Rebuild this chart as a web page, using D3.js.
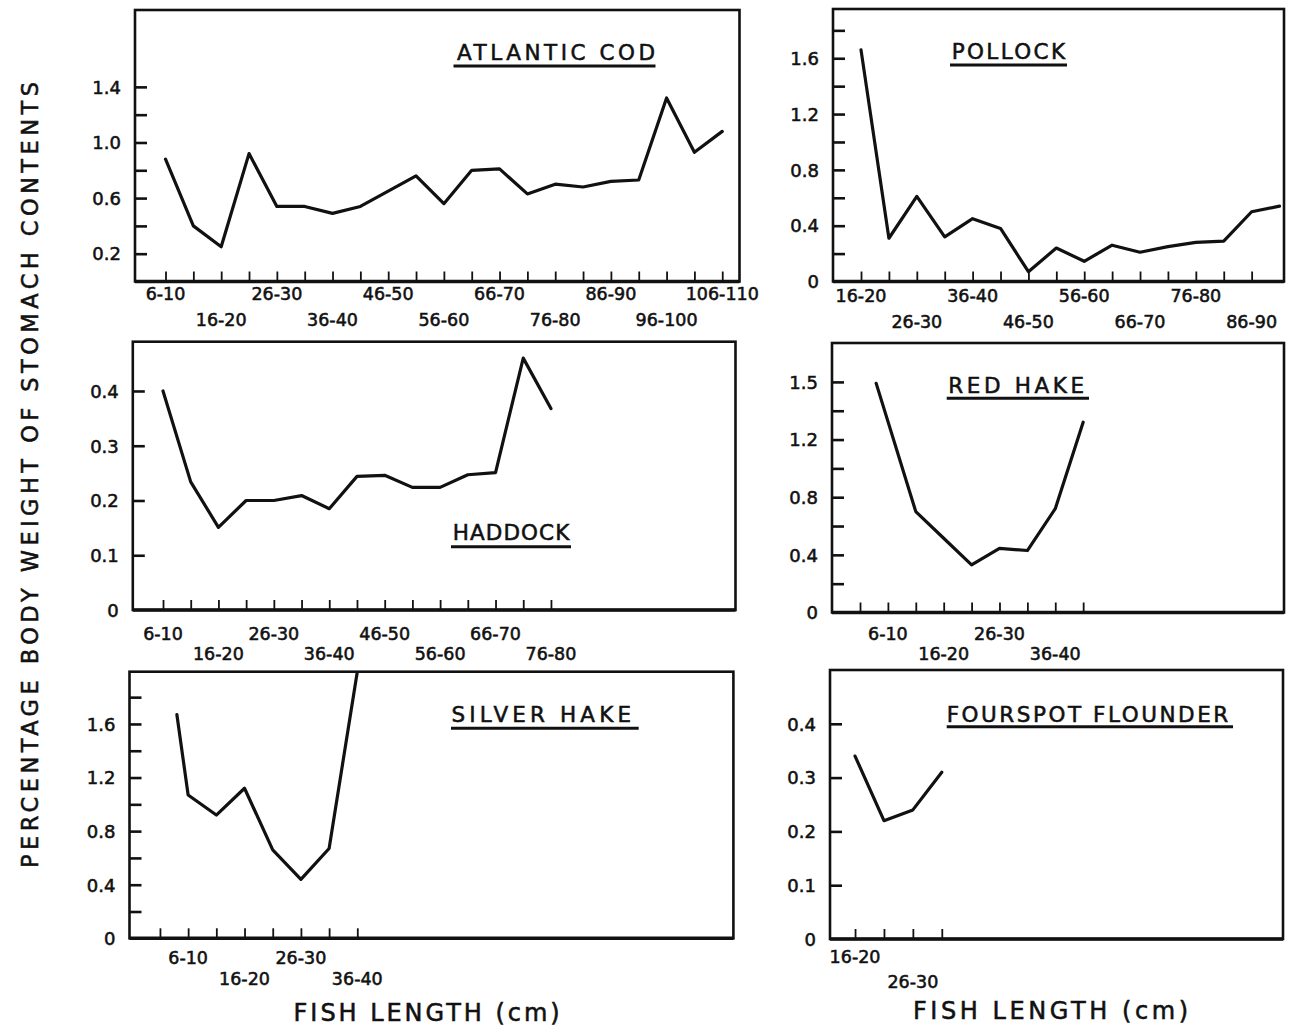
<!DOCTYPE html>
<html>
<head>
<meta charset="utf-8">
<script src="https://cdn.jsdelivr.net/npm/d3@7"></script>
<style>
  html,body{margin:0;padding:0;background:#fff;}
  svg{display:block;}
  text{font-family:"DejaVu Sans",sans-serif;fill:#111;stroke:#111;stroke-width:0.55px;}
</style>
</head>
<body>
<svg id="chart" width="1299" height="1032"></svg>
<script>
// ---------------- DATA ----------------
// Atlantic cod
const codClasses = ["6-10","11-15","16-20","21-25","26-30","31-35","36-40","41-45","46-50","51-55","56-60","61-65","66-70","71-75","76-80","81-85","86-90","91-95","96-100","101-105","106-110"];
const codTickLabels = ["6-10","16-20","26-30","36-40","46-50","56-60","66-70","76-80","86-90","96-100","106-110"];
const codLengths = [8,13,18,23,28,33,38,43,48,53,58,63,68,73,78,83,88,93,98,103,108];
const codValues = [0.88,0.40,0.25,0.92,0.54,0.54,0.49,0.54,0.65,0.76,0.56,0.80,0.81,0.63,0.70,0.68,0.72,0.73,1.32,0.93,1.08];
const codYTicks = [0.2,0.4,0.6,0.8,1.0,1.2,1.4];
const codYLabelValues = [0.2,0.6,1.0,1.4];
const codYLabelText = ["0.2","0.6","1.0","1.4"];

// Pollock
const pollockClasses = ["16-20","21-25","26-30","31-35","36-40","41-45","46-50","51-55","56-60","61-65","66-70","71-75","76-80","81-85","86-90"];
const pollockTickLabels = ["16-20","26-30","36-40","46-50","56-60","66-70","76-80","86-90"];
const pollockLengths = [18,23,28,33,38,43,48,53,58,63,68,73,78,83,88,93];
const pollockValues = [1.66,0.31,0.61,0.32,0.45,0.38,0.07,0.24,0.145,0.26,0.21,0.25,0.28,0.29,0.50,0.54];
const pollockYTicks = [0.2,0.4,0.6,0.8,1.0,1.2,1.4,1.6,1.8];
const pollockYLabelValues = [0,0.4,0.8,1.2,1.6];
const pollockYLabelText = ["0","0.4","0.8","1.2","1.6"];

// Haddock
const haddockClasses = ["6-10","11-15","16-20","21-25","26-30","31-35","36-40","41-45","46-50","51-55","56-60","61-65","66-70","71-75","76-80"];
const haddockTickLabels = ["6-10","16-20","26-30","36-40","46-50","56-60","66-70","76-80"];
const haddockLengths = [8,13,18,23,28,33,38,43,48,53,58,63,68,73,78];
const haddockValues = [0.40,0.234,0.151,0.20,0.20,0.209,0.185,0.244,0.246,0.224,0.224,0.247,0.251,0.46,0.368];
const haddockYTicks = [0.1,0.2,0.3,0.4];
const haddockYLabelValues = [0,0.1,0.2,0.3,0.4];
const haddockYLabelText = ["0","0.1","0.2","0.3","0.4"];

// Red hake
const redHakeClasses = ["1-5","6-10","11-15","16-20","21-25","26-30","31-35","36-40","41-45"];
const redHakeTickLabels = ["6-10","16-20","26-30","36-40"];
const redHakeLengths = [5.9,13,18,23,28,33,38,43];
const redHakeValues = [1.59,0.70,0.515,0.33,0.445,0.43,0.72,1.32];
const redHakeYTicks = [0.2,0.4,0.6,0.8,1.0,1.2,1.4,1.6];
const redHakeYLabelValues = [0,0.4,0.8,1.2,1.6];
const redHakeYLabelText = ["0","0.4","0.8","1.2","1.5"];

// Silver hake
const silverHakeClasses = ["1-5","6-10","11-15","16-20","21-25","26-30","31-35","36-40"];
const silverHakeTickLabels = ["6-10","16-20","26-30","36-40"];
const silverHakeLengths = [6,8,13,18,23,28,33,38];
const silverHakeValues = [1.67,1.07,0.92,1.12,0.66,0.44,0.67,1.99];
const silverHakeYTicks = [0.2,0.4,0.6,0.8,1.0,1.2,1.4,1.6,1.8];
const silverHakeYLabelValues = [0,0.4,0.8,1.2,1.6];
const silverHakeYLabelText = ["0","0.4","0.8","1.2","1.6"];

// Fourspot flounder
const flounderClasses = ["16-20","21-25","26-30","31-35"];
const flounderTickLabels = ["16-20","26-30"];
const flounderLengths = [18,23,28,33];
const flounderValues = [0.34,0.22,0.24,0.31];
const flounderYTicks = [0.1,0.2,0.3,0.4];
const flounderYLabelValues = [0,0.1,0.2,0.3,0.4];
const flounderYLabelText = ["0","0.1","0.2","0.3","0.4"];

const xAxisTitle = "FISH LENGTH (cm)";
const yAxisTitle = "PERCENTAGE BODY WEIGHT OF STOMACH CONTENTS";

// ---------------- LAYOUT ----------------
const panels = [
  {title:"ATLANTIC COD", classes:codClasses, tickLabels:codTickLabels, lengths:codLengths, values:codValues,
   yTicks:codYTicks, yLabelValues:codYLabelValues, yLabelText:codYLabelText,
   frame:{l:135,r:739.5,t:10,b:281.5}, xDomain:[2.52,111.1], yMax:1.953, rows:[300,326],
   tt:{x:457,y:60,w:198,uy:66,u0:453.5,u1:655.5}},
  {title:"POLLOCK", classes:pollockClasses, tickLabels:pollockTickLabels, lengths:pollockLengths, values:pollockValues,
   yTicks:pollockYTicks, yLabelValues:pollockYLabelValues, yLabelText:pollockYLabelText,
   frame:{l:833,r:1284,t:9,b:281.5}, xDomain:[12.98,93.8], yMax:1.953, rows:[302,328],
   tt:{x:951.7,y:59.3,w:113.3,uy:65,u0:950,u1:1067}},
  {title:"HADDOCK", classes:haddockClasses, tickLabels:haddockTickLabels, lengths:haddockLengths, values:haddockValues,
   yTicks:haddockYTicks, yLabelValues:haddockYLabelValues, yLabelText:haddockYLabelText,
   frame:{l:132.8,r:735.5,t:341.7,b:610}, xDomain:[2.55,111.3], yMax:0.49, rows:[640,660],
   tt:{x:452.7,y:540,w:116.6,uy:546.7,u0:451,u1:571}},
  {title:"RED HAKE", classes:redHakeClasses, tickLabels:redHakeTickLabels, lengths:redHakeLengths, values:redHakeValues,
   yTicks:redHakeYTicks, yLabelValues:redHakeYLabelValues, yLabelText:redHakeYLabelText,
   frame:{l:832,r:1284,t:343,b:612.5}, xDomain:[-2.02,79.0], yMax:1.87, rows:[640,660],
   tt:{x:948.3,y:393.3,w:135.7,uy:398.3,u0:946.7,u1:1089}},
  {title:"SILVER HAKE", classes:silverHakeClasses, tickLabels:silverHakeTickLabels, lengths:silverHakeLengths, values:silverHakeValues,
   yTicks:silverHakeYTicks, yLabelValues:silverHakeYLabelValues, yLabelText:silverHakeYLabelText,
   frame:{l:129.5,r:733.4,t:671.7,b:938.3}, xDomain:[-2.4,104.7], yMax:1.99, rows:[964,985],
   tt:{x:451.4,y:721.7,w:179.6,uy:728.3,u0:451,u1:638.7}},
  {title:"FOURSPOT FLOUNDER", classes:flounderClasses, tickLabels:flounderTickLabels, lengths:flounderLengths, values:flounderValues,
   yTicks:flounderYTicks, yLabelValues:flounderYLabelValues, yLabelText:flounderYLabelText,
   frame:{l:830,r:1283,t:670,b:939}, xDomain:[13.67,92.0], yMax:0.5, rows:[963,988],
   tt:{x:946.7,y:721.7,w:281.6,uy:726.7,u0:946.7,u1:1233}}
];

const classMid = s => +s.split("-")[0] + 2;
const svg = d3.select("#chart");
const ink = "#111";

panels.forEach((p, pi) => {
  const f = p.frame;
  const x = d3.scaleLinear().domain(p.xDomain).range([f.l, f.r]);
  const y = d3.scaleLinear().domain([0, p.yMax]).range([f.b, f.t]);
  const g = svg.append("g");

  const clipId = "clip" + pi;
  svg.append("clipPath").attr("id", clipId)
    .append("rect").attr("x", f.l).attr("y", f.t).attr("width", f.r - f.l).attr("height", f.b - f.t);

  // frame
  g.append("rect").attr("x", f.l).attr("y", f.t).attr("width", f.r - f.l).attr("height", f.b - f.t)
    .attr("fill", "none").attr("stroke", ink).attr("stroke-width", 2.6);
  g.append("line").attr("x1", f.l).attr("x2", f.r).attr("y1", f.b).attr("y2", f.b)
    .attr("stroke", ink).attr("stroke-width", 3.4);

  // y axis ticks (inward)
  const yAx = d3.axisRight(y).tickValues(p.yTicks).tickSize(12).tickFormat("");
  const ya = g.append("g").attr("transform", `translate(${f.l},0)`).call(yAx);
  ya.select(".domain").remove();
  ya.selectAll(".tick line").attr("stroke", ink).attr("stroke-width", 2.6);

  // y labels
  g.selectAll(".ylab").data(p.yLabelValues).enter().append("text")
    .attr("x", f.l - 14).attr("y", d => y(d) + 6.8)
    .attr("text-anchor", "end").attr("font-size", 18)
    .text((d, i) => p.yLabelText[i]);

  // x ticks (inward, upward)
  const xAx = d3.axisTop(x).tickValues(p.classes.map(classMid)).tickSize(10).tickFormat("");
  const xa = g.append("g").attr("transform", `translate(0,${f.b})`).call(xAx);
  xa.select(".domain").remove();
  xa.selectAll(".tick line").attr("stroke", ink).attr("stroke-width", 1.8);

  // x labels (two staggered rows)
  g.selectAll(".xlab").data(p.tickLabels).enter().append("text")
    .attr("x", d => x(classMid(d))).attr("y", (d, i) => p.rows[i % 2])
    .attr("text-anchor", "middle").attr("font-size", 17.5)
    .text(d => d);

  // data line
  const pts = p.lengths.map((L, i) => [L, p.values[i]]);
  const line = d3.line().x(d => x(d[0])).y(d => y(d[1]));
  g.append("path").datum(pts).attr("d", line)
    .attr("clip-path", `url(#${clipId})`)
    .attr("fill", "none").attr("stroke", ink).attr("stroke-width", 3.2)
    .attr("stroke-linejoin", "round").attr("stroke-linecap", "round");

  // title + underline
  const t = p.tt;
  g.append("text").attr("x", t.x).attr("y", t.y).attr("font-size", 21.5)
    .attr("textLength", t.w).attr("lengthAdjust", "spacing").text(p.title);
  g.append("line").attr("x1", t.u0).attr("x2", t.u1).attr("y1", t.uy).attr("y2", t.uy)
    .attr("stroke", ink).attr("stroke-width", 3);
});

// axis titles
[[293.6, 1021, 266], [913, 1019, 275]].forEach(a => {
  svg.append("text").attr("x", a[0]).attr("y", a[1]).attr("font-size", 24)
    .attr("textLength", a[2]).attr("lengthAdjust", "spacing").text(xAxisTitle);
});
svg.append("text")
  .attr("transform", "translate(38,868) rotate(-90)")
  .attr("x", 0).attr("y", 0).attr("font-size", 22.5)
  .attr("textLength", 786).attr("lengthAdjust", "spacing")
  .text(yAxisTitle);
</script>
</body>
</html>
